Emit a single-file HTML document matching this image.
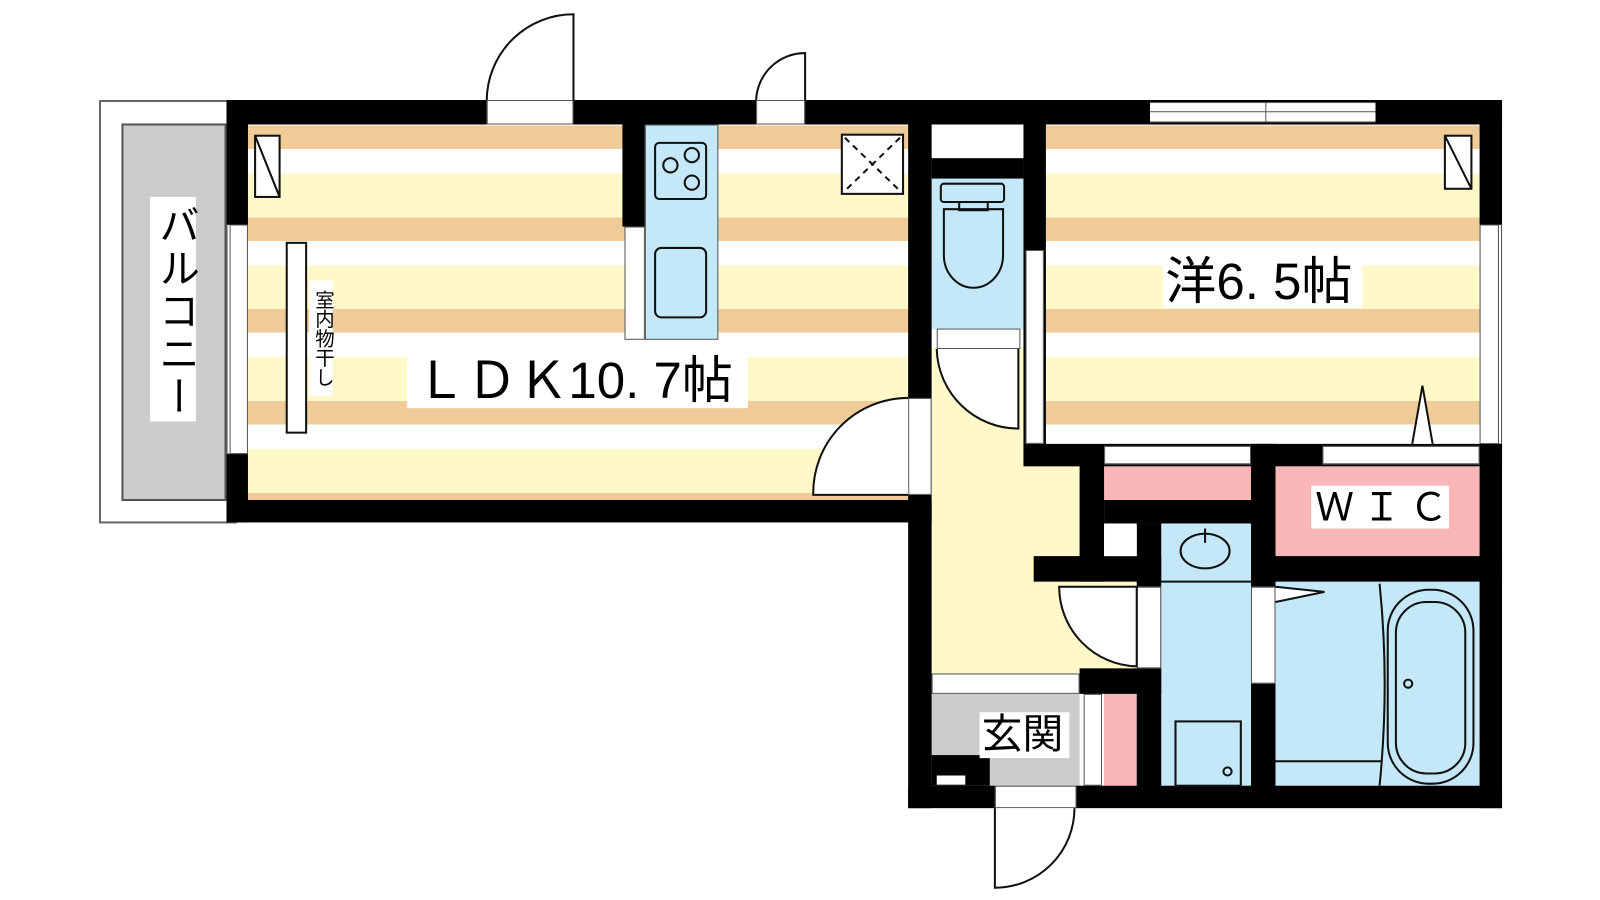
<!DOCTYPE html>
<html><head><meta charset="utf-8"><style>
body{margin:0;width:1600px;height:900px;background:#fff;position:relative;overflow:hidden;font-family:"Liberation Sans","Noto Sans CJK JP",sans-serif}
#c{position:absolute;left:0;top:0;width:1568px;height:882px;transform:scale(1.0204);transform-origin:0 0}
.a{position:absolute;box-sizing:border-box}
.k{background:#000}
.w{background:#fff}
.st{background:repeating-linear-gradient(to bottom,#efcb97 0,#efcb97 23px,#fff 23px,#fff 47px,#fff8c8 47px,#fff8c8 90px)}
.lb{background:#c4e8f7}
.pk{background:#f8b6b7}
.yl{background:#fff8c8}
.lbl{background:#fff;color:#000;line-height:1;white-space:nowrap}
</style></head><body><div id="c">
<div class="a" style="left:97px;top:98px;width:135px;height:415px;border:2px solid #666;background:#fff"></div>
<div class="a" style="left:119px;top:121px;width:103px;height:370px;background:#ccc;border:2px solid #555"></div>
<div class="a lbl" style="left:147px;top:193px;width:45px;height:220px;font-size:40px;writing-mode:vertical-rl;text-align:center;padding-top:4px;letter-spacing:2px">バルコニー</div>

<div class="a st" style="left:243px;top:123px;width:648px;height:368px"></div>
<div class="a st" style="left:1025px;top:123px;width:426px;height:312px"></div>
<div class="a yl" style="left:913px;top:340px;width:90px;height:325px"></div>
<div class="a yl" style="left:1003px;top:455px;width:55px;height:210px"></div>
<div class="a yl" style="left:1058px;top:570px;width:58px;height:90px"></div>
<div class="a lb" style="left:913px;top:175px;width:90px;height:148px"></div>
<div class="a w" style="left:913px;top:122px;width:90px;height:33px"></div>
<div class="a k" style="left:913px;top:155px;width:90px;height:20px"></div>
<div class="a lb" style="left:1138px;top:513px;width:88px;height:257px"></div>
<div class="a lb" style="left:1250px;top:570px;width:200px;height:200px"></div>
<div class="a pk" style="left:1082px;top:457px;width:144px;height:33px"></div>
<div class="a k" style="left:1082px;top:490px;width:144px;height:23px"></div>
<div class="a pk" style="left:1250px;top:457px;width:200px;height:88px"></div>
<div class="a pk" style="left:1082px;top:680px;width:32px;height:90px"></div>
<div class="a w" style="left:1062px;top:680px;width:18px;height:90px;border:1px solid #555"></div>
<div class="a" style="left:913px;top:680px;width:145px;height:90px;background:#ccc"></div>
<div class="a w" style="left:913px;top:660px;width:145px;height:20px;border:1px solid #555"></div>

<div class="a k" style="left:222px;top:98px;width:1250px;height:24px"></div>
<div class="a k" style="left:222px;top:98px;width:21px;height:414px"></div>
<div class="a k" style="left:222px;top:490px;width:691px;height:22px"></div>
<div class="a k" style="left:890px;top:98px;width:23px;height:694px"></div>
<div class="a k" style="left:1003px;top:98px;width:22px;height:357px"></div>
<div class="a k" style="left:1450px;top:98px;width:22px;height:694px"></div>
<div class="a k" style="left:890px;top:770px;width:582px;height:22px"></div>
<div class="a k" style="left:1003px;top:435px;width:469px;height:22px"></div>
<div class="a k" style="left:1058px;top:455px;width:24px;height:115px"></div>
<div class="a k" style="left:1013px;top:545px;width:125px;height:25px"></div>
<div class="a k" style="left:1226px;top:435px;width:24px;height:355px"></div>
<div class="a k" style="left:1226px;top:545px;width:246px;height:25px"></div>
<div class="a k" style="left:1114px;top:513px;width:24px;height:270px"></div>
<div class="a k" style="left:1058px;top:655px;width:80px;height:25px"></div>
<div class="a w" style="left:1082px;top:515px;width:32px;height:30px"></div>
<div class="a k" style="left:913px;top:740px;width:57px;height:30px"></div>
<div class="a w" style="left:918px;top:760px;width:28px;height:9px"></div>

<div class="a w" style="left:222px;top:220px;width:21px;height:225px;border:1px solid #555;border-left:4px double #555"></div>
<div class="a w" style="left:1450px;top:220px;width:22px;height:215px;border:1px solid #555;border-right:4px double #555"></div>
<div class="a w" style="left:1127px;top:100px;width:221px;height:20px;border-top:1px solid #555;border-bottom:1px solid #555"></div>
<div class="a" style="left:1127px;top:109px;width:221px;height:1px;background:#555"></div>
<div class="a" style="left:1240px;top:100px;width:1px;height:20px;background:#555"></div>
<div class="a w" style="left:477px;top:98px;width:85px;height:24px;border:1px solid #555"></div>
<div class="a w" style="left:741px;top:98px;width:48px;height:24px;border:1px solid #555"></div>
<div class="a w" style="left:1082px;top:437px;width:144px;height:18px;border:1px solid #555"></div>
<div class="a w" style="left:1296px;top:437px;width:154px;height:18px;border:1px solid #555"></div>
<div class="a w" style="left:1005px;top:245px;width:18px;height:190px;border:1px solid #555"></div>
<div class="a w" style="left:890px;top:390px;width:23px;height:95px;border:1px solid #555"></div>
<div class="a w" style="left:975px;top:770px;width:80px;height:22px;border:1px solid #555"></div>
<div class="a w" style="left:1114px;top:575px;width:24px;height:80px;border:1px solid #555"></div>
<div class="a w" style="left:1226px;top:575px;width:24px;height:95px;border:1px solid #555"></div>
<div class="a w" style="left:918px;top:322px;width:82px;height:20px;border:1px solid #555"></div>

<div class="a k" style="left:610px;top:122px;width:22px;height:100px"></div>
<div class="a w" style="left:612px;top:222px;width:20px;height:111px;border:1px solid #555"></div>
<div class="a lb" style="left:632px;top:122px;width:72px;height:211px;border:1px solid #555"></div>

<svg class="a" style="left:0;top:0" width="1568" height="882" fill="none" stroke="#111" stroke-width="2">
<path d="M477 98 A85 85 0 0 1 562 14 L562 98" fill="#fff"/>
<path d="M741 98 A48 48 0 0 1 789 52 L789 98" fill="#fff"/>
<path d="M890 390 A93 93 0 0 0 797 485 L890 485" fill="#fff"/>
<path d="M918 342 A80 80 0 0 0 998 420 L998 342" fill="#fff"/>
<path d="M1114 575 L1038 575 A78 78 0 0 0 1114 653 Z" fill="#fff"/>
<path d="M975 792 L975 870 A78 78 0 0 0 1053 792" fill="#fff"/>
<rect x="642" y="140" width="50" height="55" rx="4"/>
<circle cx="657" cy="162" r="7"/><circle cx="678" cy="152" r="7"/><circle cx="678" cy="179" r="7"/>
<rect x="642" y="243" width="50" height="68" rx="6"/>
<rect x="250" y="133" width="24" height="60" fill="#fff"/><path d="M250 133 L274 193"/>
<rect x="1416" y="133" width="26" height="52" fill="#fff"/><path d="M1416 133 L1442 185"/>
<rect x="825" y="132" width="60" height="58" fill="#fff"/>
<path d="M828 135 L882 187 M882 135 L828 187" stroke-dasharray="6 5"/>
<rect x="281" y="238" width="19" height="186" fill="#fff"/>
<rect x="922" y="180" width="62" height="18" rx="3"/>
<path d="M925 205 H983 V250 A29 32 0 0 1 925 250 Z"/>
<rect x="940" y="198" width="28" height="8"/>
<ellipse cx="1181" cy="540" rx="24" ry="17"/>
<path d="M1181 518 V532"/>
<rect x="1152" y="707" width="64" height="63"/><circle cx="1203" cy="756" r="4"/>
<path d="M1138 570 H1226"/>
<rect x="1360" y="578" width="84" height="190" rx="40"/>
<rect x="1368" y="590" width="68" height="168" rx="30"/>
<circle cx="1380" cy="670" r="4"/>
<path d="M1352 572 Q1362 670 1352 770"/>
<path d="M1250 746 H1354"/>
<path d="M1250 575 L1298 580 L1250 590" fill="#fff"/>
<path d="M1384 435 L1394 378 L1404 435" fill="#fff"/>
</svg>

<div class="a lbl" style="left:303px;top:275px;width:23px;height:113px;font-size:19px;writing-mode:vertical-rl;text-align:center">室内物干し</div>
<div class="a lbl" style="left:399px;top:345px;width:334px;height:55px;font-size:50px;padding-top:3px;padding-left:8px">ＬＤＫ10. 7帖</div>
<div class="a lbl" style="left:1140px;top:250px;width:195px;height:52px;font-size:50px;padding-top:1px;padding-left:2px">洋6. 5帖</div>
<div class="a lbl" style="left:1285px;top:476px;width:135px;height:42px;font-size:38px;padding-top:3px;padding-left:4px;letter-spacing:8px">ＷＩＣ</div>
<div class="a lbl" style="left:960px;top:698px;width:88px;height:45px;font-size:40px;padding-top:2px;padding-left:2px">玄関</div>
</div></body></html>
